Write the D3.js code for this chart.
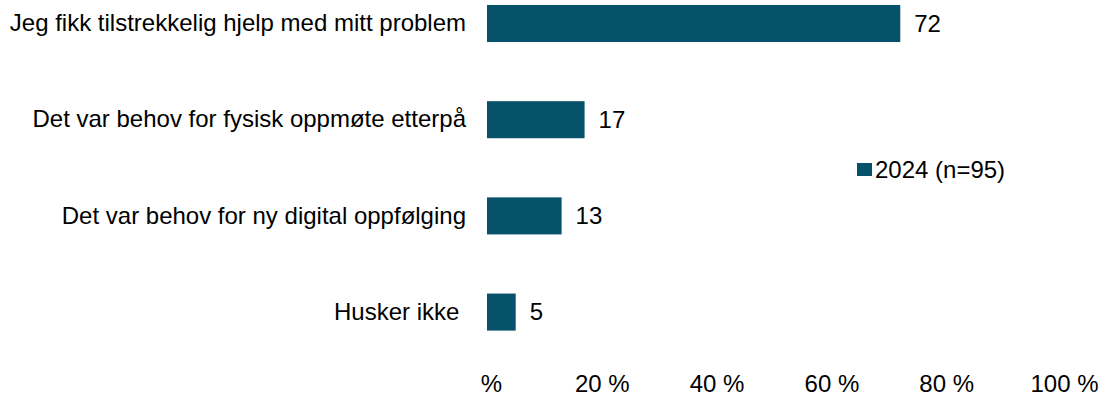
<!DOCTYPE html>
<html>
<head>
<meta charset="utf-8">
<script src="https://cdn.jsdelivr.net/npm/d3@7"></script>
<style>
  html, body { margin: 0; padding: 0; background: #ffffff; }
  svg { display: block; font-family: "Liberation Sans", Arial, sans-serif; }
</style>
</head>
<body>
<svg id="chart" width="1101" height="400"></svg>
<script>
// Categories and percentages
const categories = [
  "Jeg fikk tilstrekkelig hjelp med mitt problem",
  "Det var behov for fysisk oppmøte etterpå",
  "Det var behov for ny digital oppfølging",
  "Husker ikke\u00a0"
];
const values = [72, 17, 13, 5];
const seriesName = "2024 (n=95)";
const tickValues = [0, 20, 40, 60, 80, 100];
const tickLabels = ["%", "20 %", "40 %", "60 %", "80 %", "100 %"];

const barColor = "#07526b";
const fontSize = 24;
const svg = d3.select("#chart");

const x = d3.scaleLinear().domain([0, 100]).range([487, 1061]);
const y = d3.scaleBand().domain(categories).range([5, 330.6]).paddingInner(0.615).paddingOuter(0);

const data = categories.map((c, i) => ({ cat: c, val: values[i] }));

// Bars
svg.append("g").selectAll("rect").data(data).join("rect")
  .attr("x", x(0))
  .attr("y", d => y(d.cat))
  .attr("width", d => x(d.val) - x(0))
  .attr("height", y.bandwidth())
  .attr("fill", barColor);

// Value labels
svg.append("g").selectAll("text").data(data).join("text")
  .attr("x", d => x(d.val) + 14)
  .attr("y", d => y(d.cat) + y.bandwidth() / 2)
  .attr("dy", "0.35em")
  .attr("font-size", fontSize)
  .attr("fill", "#000")
  .text(d => d.val);

// Category axis (labels only)
const yAxis = d3.axisLeft(y).tickSize(0).tickPadding(21);
const gy = svg.append("g").attr("transform", `translate(${x(0)},0)`).call(yAxis);
gy.select(".domain").remove();
gy.selectAll("text").attr("font-size", fontSize).attr("fill", "#000")
  .attr("font-family", "Liberation Sans, Arial, sans-serif")
  .style("white-space", "pre");

// Percentage axis (labels only)
const xAxis = d3.axisBottom(x).tickValues(tickValues)
  .tickFormat((d, i) => tickLabels[i]).tickSize(0).tickPadding(0);
const gx = svg.append("g").attr("transform", "translate(0,375)").call(xAxis);
gx.select(".domain").remove();
gx.selectAll("text").attr("font-size", fontSize).attr("fill", "#000")
  .attr("font-family", "Liberation Sans, Arial, sans-serif")
  .attr("dx", (d, i) => i === 0 ? 4 : (i === 5 ? 3 : 0));

// Legend
const lg = svg.append("g").attr("transform", "translate(857,163)");
lg.append("rect").attr("width", 15).attr("height", 13).attr("fill", barColor);
lg.append("text").attr("x", 18).attr("y", 6.5).attr("dy", "0.35em")
  .attr("font-size", fontSize).attr("fill", "#000").text(seriesName);
</script>
</body>
</html>
